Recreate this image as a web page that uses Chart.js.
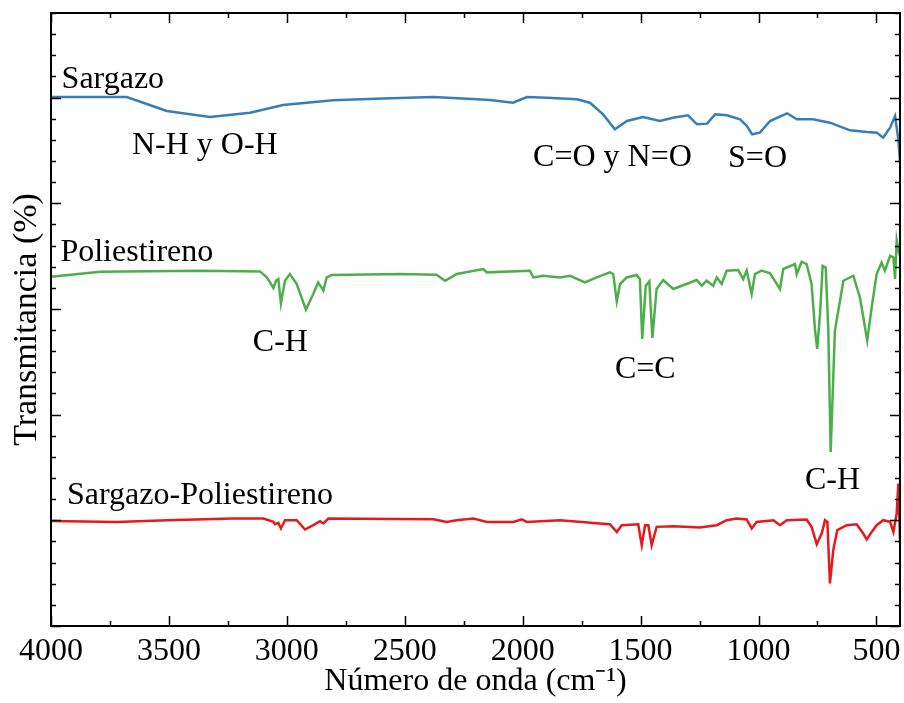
<!DOCTYPE html>
<html>
<head>
<meta charset="utf-8">
<script src="https://cdn.jsdelivr.net/npm/chart.js@4"></script>
<style>
  html, body { margin: 0; padding: 0; background: #fff; }
  #wrap { width: 904px; height: 703px; position: relative; }
</style>
</head>
<body>
<div id="wrap"><canvas id="ftirChart"></canvas></div>
<script>
// wavenumbers (cm-1) and transmittance (offset units)
const sargazoWn = [4000, 3679, 3509, 3326, 3156, 3016, 2804, 2592, 2380, 2194, 2139, 2041, 1982, 1897, 1770, 1715, 1659, 1609, 1558, 1490, 1418, 1363, 1299, 1261, 1218, 1184, 1134, 1078, 1049, 1027, 994, 951, 879, 837, 769, 697, 612, 540, 498, 472, 442, 421, 408, 400];
const sargazoT = [5.005, 5.005, 4.873, 4.816, 4.856, 4.929, 4.974, 4.992, 5.005, 4.983, 4.976, 4.951, 5.005, 4.998, 4.983, 4.951, 4.841, 4.700, 4.778, 4.816, 4.778, 4.809, 4.832, 4.747, 4.753, 4.841, 4.832, 4.794, 4.731, 4.652, 4.668, 4.778, 4.851, 4.794, 4.794, 4.762, 4.690, 4.674, 4.668, 4.620, 4.715, 4.825, 4.620, 4.400];

const poliWn = [4000, 3792, 3368, 3114, 3085, 3071, 3057, 3046, 3036, 3025, 3008, 2987, 2958, 2919, 2888, 2867, 2845, 2831, 2810, 2520, 2365, 2329, 2280, 2167, 2152, 1969, 1955, 1912, 1842, 1799, 1736, 1686, 1630, 1616, 1601, 1587, 1559, 1517, 1503, 1493, 1478, 1463, 1450, 1432, 1404, 1361, 1262, 1241, 1220, 1192, 1177, 1156, 1135, 1086, 1065, 1050, 1029, 1015, 987, 951, 909, 895, 845, 838, 817, 796, 775, 760, 751, 739, 728, 715, 704, 694, 676, 640, 598, 570, 539, 520, 499, 478, 464, 442, 428, 421, 414, 407, 400];
const poliT = [3.305, 3.352, 3.362, 3.355, 3.298, 3.251, 3.198, 3.267, 3.283, 3.053, 3.267, 3.330, 3.236, 2.993, 3.142, 3.251, 3.173, 3.298, 3.321, 3.330, 3.324, 3.267, 3.330, 3.378, 3.346, 3.362, 3.298, 3.314, 3.298, 3.314, 3.251, 3.298, 3.346, 3.330, 3.072, 3.236, 3.298, 3.321, 3.283, 2.717, 3.220, 3.261, 2.726, 3.189, 3.274, 3.189, 3.274, 3.220, 3.267, 3.220, 3.298, 3.236, 3.362, 3.368, 3.283, 3.362, 3.142, 3.330, 3.362, 3.336, 3.189, 3.378, 3.425, 3.330, 3.447, 3.425, 3.236, 2.795, 2.622, 2.953, 3.409, 3.393, 2.795, 1.646, 2.795, 3.267, 3.314, 3.110, 2.701, 3.015, 3.330, 3.440, 3.362, 3.503, 3.488, 3.283, 3.645, 3.550, 3.503];

const mezclaWn = [4000, 3721, 3509, 3227, 3100, 3057, 3050, 3036, 3025, 3008, 2958, 2923, 2888, 2859, 2845, 2824, 2379, 2322, 2280, 2209, 2152, 2040, 2004, 1983, 1842, 1672, 1630, 1601, 1580, 1510, 1495, 1481, 1467, 1453, 1432, 1361, 1248, 1177, 1135, 1093, 1050, 1029, 1008, 937, 909, 880, 796, 775, 753, 732, 718, 708, 697, 683, 666, 626, 584, 556, 541, 520, 499, 471, 442, 428, 414, 407, 400];
const mezclaT = [0.994, 0.985, 1.001, 1.017, 1.017, 0.985, 0.963, 0.975, 0.923, 1.000, 1.001, 0.913, 0.954, 0.992, 0.970, 1.017, 1.010, 0.985, 1.001, 1.017, 0.985, 0.985, 1.010, 0.985, 1.001, 0.970, 0.963, 0.890, 0.954, 0.963, 0.765, 0.954, 0.954, 0.765, 0.938, 0.944, 0.932, 0.954, 1.001, 1.017, 1.008, 0.923, 0.985, 1.001, 0.954, 1.001, 1.008, 0.938, 0.774, 0.875, 1.001, 0.985, 0.403, 0.718, 0.907, 0.954, 0.963, 0.875, 0.819, 0.890, 0.954, 1.001, 0.985, 0.890, 1.064, 1.347, 0.812];

const xTickValues = [4000, 3500, 3000, 2500, 2000, 1500, 1000, 500];

// text labels placed in data coordinates (left edge, baseline)
const notes = [
  { text: "Sargazo", wn: 3955, t: 5.09 },
  { text: "N-H y O-H", wn: 3657, t: 4.47 },
  { text: "C=O y N=O", wn: 1956, t: 4.35 },
  { text: "S=O", wn: 1129, t: 4.34 },
  { text: "Poliestireno", wn: 3960, t: 3.45 },
  { text: "C-H", wn: 3144, t: 2.60 },
  { text: "C=C", wn: 1609, t: 2.35 },
  { text: "C-H", wn: 803, t: 1.30 },
  { text: "Sargazo-Poliestireno", wn: 3932, t: 1.15 },
];

const serif = '"Liberation Serif", "Times New Roman", serif';

function pts(wn, t) {
  return wn.map((w, i) => ({ x: w, y: t[i] }));
}

// box round the plot with inward ticks on all four sides + the peak labels
const frameAndNotes = {
  id: "frameAndNotes",
  afterDatasetsDraw(chart) {
    const { ctx, chartArea: a, scales: { x, y } } = chart;
    ctx.save();
    ctx.strokeStyle = "#000";
    ctx.lineWidth = 1.5;
    ctx.beginPath();
    for (let v = 4000; v >= 400; v -= 250) {
      const px = Math.round(x.getPixelForValue(v)) + 0.5;
      const len = v % 500 === 0 ? 10 : 5;
      ctx.moveTo(px, a.bottom); ctx.lineTo(px, a.bottom - len);
      ctx.moveTo(px, a.top); ctx.lineTo(px, a.top + len);
    }
    for (let i = 0; i <= 29; i++) {
      const py = Math.round(y.getPixelForValue(i * 0.2)) + 0.5;
      const len = i % 5 === 0 ? 10 : 5;
      ctx.moveTo(a.left, py); ctx.lineTo(a.left + len, py);
      ctx.moveTo(a.right, py); ctx.lineTo(a.right - len, py);
    }
    ctx.stroke();
    ctx.lineWidth = 2;
    ctx.strokeRect(a.left, a.top, a.right - a.left, a.bottom - a.top);

    ctx.fillStyle = "#000";
    ctx.font = "32px " + serif;
    ctx.textAlign = "left";
    ctx.textBaseline = "alphabetic";
    notes.forEach(n => {
      ctx.fillText(n.text, x.getPixelForValue(n.wn), y.getPixelForValue(n.t));
    });
    ctx.restore();
  }
};

const ctx = document.getElementById("ftirChart");
new Chart(ctx, {
  type: "line",
  data: {
    datasets: [
      { label: "Sargazo", data: pts(sargazoWn, sargazoT), borderColor: "#377eb8" },
      { label: "Poliestireno", data: pts(poliWn, poliT), borderColor: "#4daf4a" },
      { label: "Sargazo-Poliestireno", data: pts(mezclaWn, mezclaT), borderColor: "#e41a1c" },
    ].map(d => Object.assign(d, { borderWidth: 2.5, pointRadius: 0, tension: 0, fill: false })),
  },
  options: {
    responsive: true,
    maintainAspectRatio: false,
    animation: false,
    devicePixelRatio: 1,
    layout: { padding: { top: 13, right: 4, bottom: 0, left: 0 } },
    plugins: { legend: { display: false }, tooltip: { enabled: false } },
    scales: {
      x: {
        type: "linear",
        reverse: true,
        min: 400,
        max: 4000,
        afterBuildTicks: s => { s.ticks = xTickValues.map(v => ({ value: v })); },
        afterFit: s => { s.height = 77; s.paddingLeft = 0; s.paddingRight = 0; },
        grid: { display: false },
        border: { display: false },
        ticks: {
          color: "#000",
          font: { family: serif, size: 32 },
          padding: -2,
          maxRotation: 0,
          autoSkip: false,
          callback: v => String(v),
        },
        title: {
          display: true,
          text: "Número de onda (cm⁻¹)",
          color: "#000",
          font: { family: serif, size: 32 },
          padding: { top: 0, bottom: 2 },
        },
      },
      y: {
        min: 0,
        max: 5.8,
        afterFit: s => { s.width = 51; },
        grid: { display: false },
        border: { display: false },
        ticks: { display: false },
        title: {
          display: true,
          text: "Transmitancia (%)",
          color: "#000",
          font: { family: serif, size: 34 },
          padding: { top: 7, bottom: 0 },
        },
      },
    },
  },
  plugins: [frameAndNotes],
});
</script>
</body>
</html>
